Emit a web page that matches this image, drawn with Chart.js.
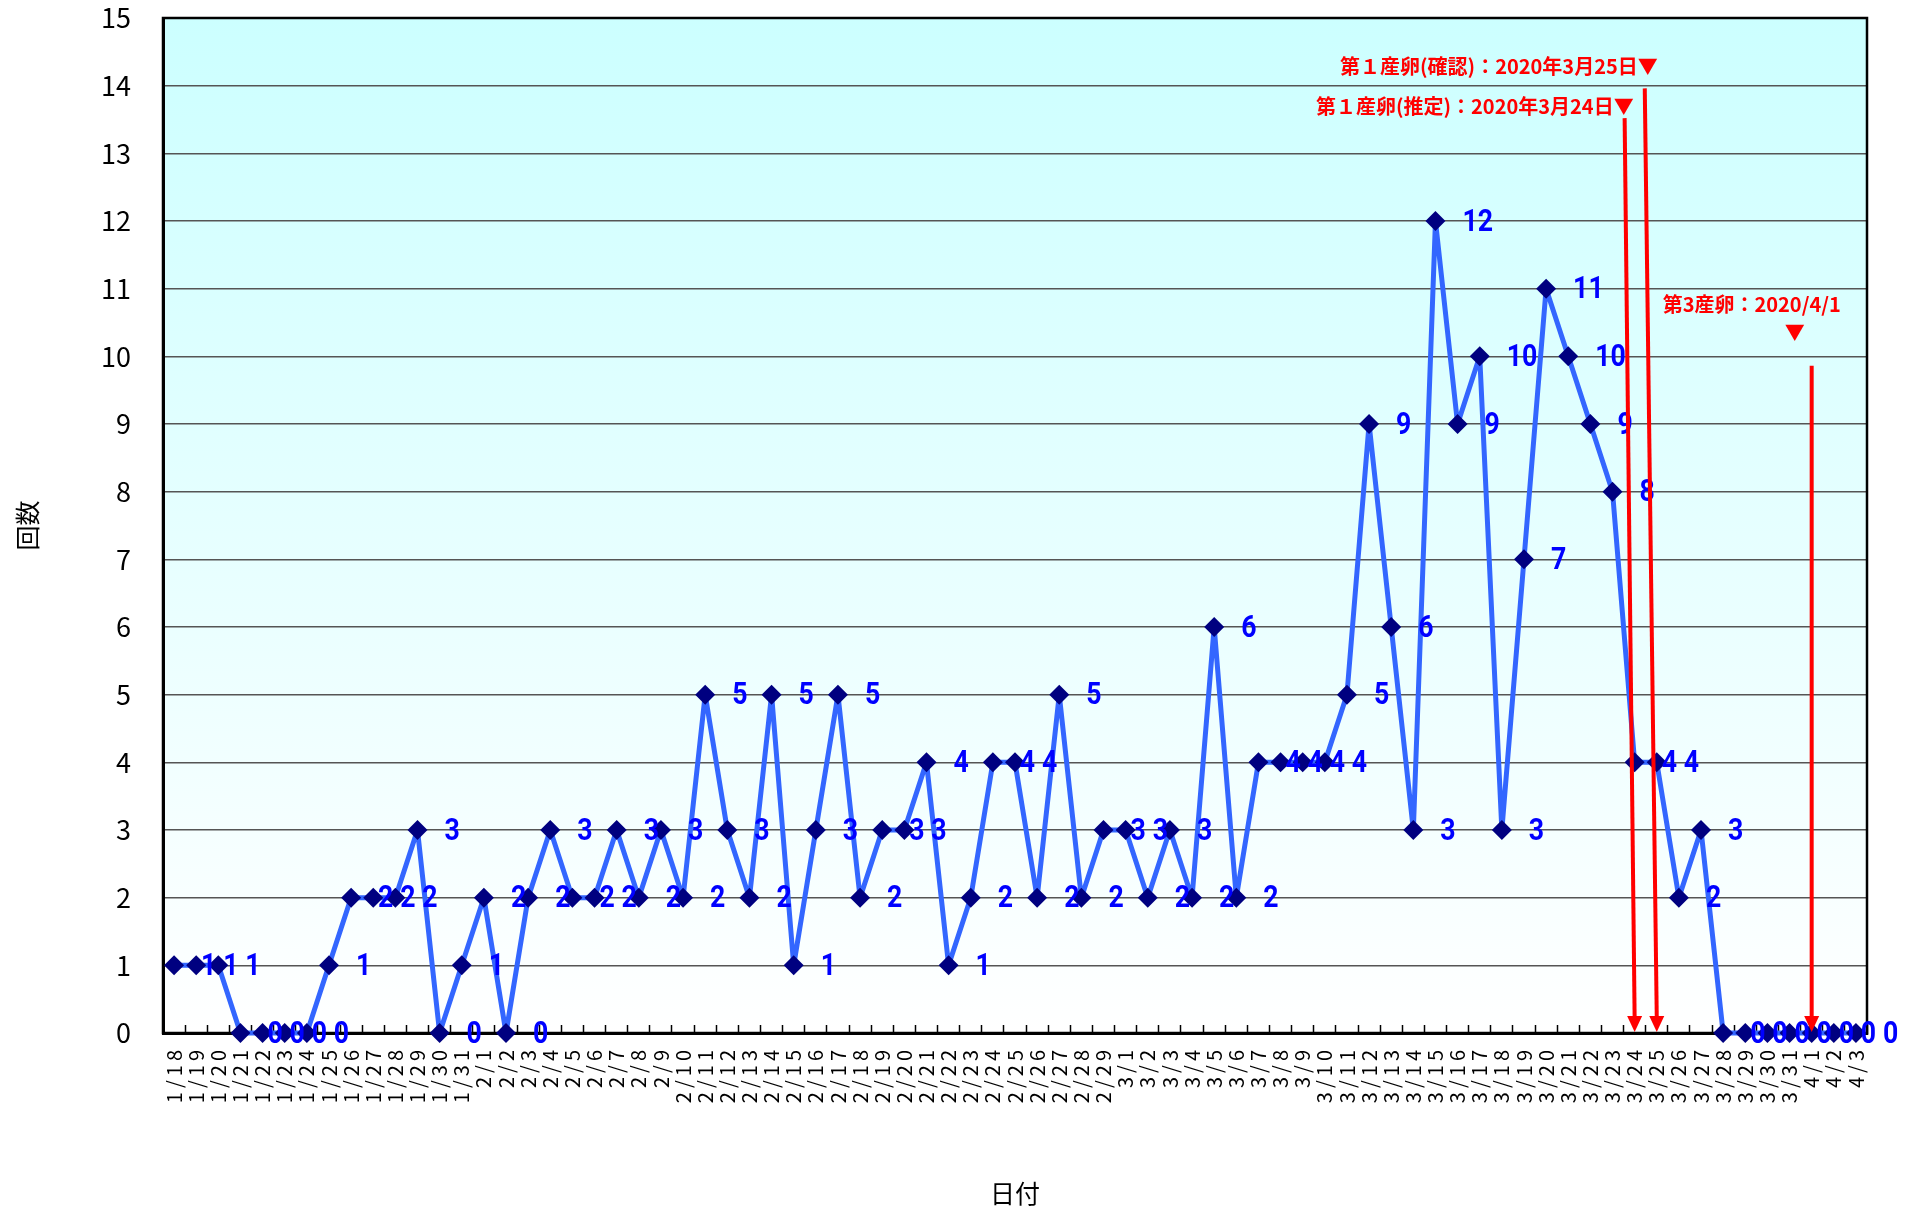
<!DOCTYPE html>
<html lang="ja">
<head>
<meta charset="utf-8">
<title>回数</title>
<script src="https://cdn.jsdelivr.net/npm/chart.js@4.4.1/dist/chart.umd.min.js"></script>
<style>
  html, body { margin: 0; padding: 0; background: #fff; }
  #wrap { width: 1907px; height: 1211px; }
</style>
</head>
<body>
<div id="wrap"><canvas id="countChart"></canvas></div>
<script>
const dates = [
  "1/18", "1/19", "1/20", "1/21", "1/22", "1/23", "1/24", "1/25", "1/26", "1/27", "1/28", "1/29", "1/30", "1/31",
  "2/1", "2/2", "2/3", "2/4", "2/5", "2/6", "2/7", "2/8", "2/9", "2/10", "2/11", "2/12", "2/13", "2/14", "2/15",
  "2/16", "2/17", "2/18", "2/19", "2/20", "2/21", "2/22", "2/23", "2/24", "2/25", "2/26", "2/27", "2/28", "2/29",
  "3/1", "3/2", "3/3", "3/4", "3/5", "3/6", "3/7", "3/8", "3/9", "3/10", "3/11", "3/12", "3/13", "3/14", "3/15",
  "3/16", "3/17", "3/18", "3/19", "3/20", "3/21", "3/22", "3/23", "3/24", "3/25", "3/26", "3/27", "3/28", "3/29",
  "3/30", "3/31", "4/1", "4/2", "4/3",
];

const counts = [
  1, 1, 1, 0, 0, 0, 0, 1, 2, 2, 2, 3, 0, 1,
  2, 0, 2, 3, 2, 2, 3, 2, 3, 2, 5, 3, 2, 5, 1,
  3, 5, 2, 3, 3, 4, 1, 2, 4, 4, 2, 5, 2, 3,
  3, 2, 3, 2, 6, 2, 4, 4, 4, 4, 5, 9, 6, 3, 12,
  9, 10, 3, 7, 11, 10, 9, 8, 4, 4, 2, 3, 0, 0,
  0, 0, 0, 0, 0,
];

const yMin = 0;
const yMax = 15;

// 産卵の注記
const noteDates = ["3/24", "3/25", "4/1"];
const noteTexts = [
  "第１産卵(推定)：2020年3月24日▼",
  "第１産卵(確認)：2020年3月25日▼",
  "第3産卵：2020/4/1",
];

const jpFont = '"Noto Sans CJK JP", sans-serif';

// x axis labels in the picture are drawn a bit wide
class SpacedCategory extends Chart.CategoryScale {
  drawLabels(chartArea) {
    const ctx = this.ctx;
    ctx.save();
    ctx.letterSpacing = "4px";
    super.drawLabels(chartArea);
    ctx.restore();
  }
}
SpacedCategory.id = "spacedCategory";
SpacedCategory.defaults = Chart.CategoryScale.defaults;
Chart.register(SpacedCategory);

const plotBackground = {
  id: "plotBackground",
  beforeDraw(chart) {
    const { ctx, chartArea: a } = chart;
    const g = ctx.createLinearGradient(0, a.top, 0, a.bottom);
    g.addColorStop(0, "#ccffff");
    g.addColorStop(1, "#ffffff");
    ctx.save();
    ctx.fillStyle = g;
    ctx.fillRect(a.left, a.top, a.width, a.height);
    ctx.restore();
  },
};

const plotFrame = {
  id: "plotFrame",
  beforeDatasetsDraw(chart) {
    const { ctx, chartArea: a } = chart;
    ctx.save();
    ctx.strokeStyle = "#000";
    ctx.lineWidth = 2.5;
    ctx.strokeRect(a.left, a.top, a.width, a.height);
    ctx.restore();
  },
};

const valueLabels = {
  id: "valueLabels",
  afterDatasetsDraw(chart) {
    const ctx = chart.ctx;
    const meta = chart.getDatasetMeta(0);
    ctx.save();
    ctx.fillStyle = "#0000ff";
    ctx.font = 'bold 31px Roboto, "Liberation Sans", sans-serif';
    ctx.textBaseline = "middle";
    ctx.textAlign = "left";
    meta.data.forEach((pt, i) => {
      ctx.save();
      ctx.translate(pt.x + 27, pt.y + 2);
      ctx.scale(0.86, 1);
      ctx.fillText(String(counts[i]), 0, 0);
      ctx.restore();
    });
    ctx.restore();
  },
};

const eggNotes = {
  id: "eggNotes",
  afterDatasetsDraw(chart) {
    const { ctx, scales } = chart;
    const x = scales.x;
    const y = scales.y;
    const y0 = y.getPixelForValue(0);
    // [top x shift, top value] for each arrow
    const arrowSpec = [[-10, 13.52], [-12, 13.96], [0, 9.86]];
    // [align, x shift, value] for each text
    const textSpec = [["right", -1, 13.7], ["right", 1, 14.28], ["center", -60, 10.77]];

    ctx.save();
    ctx.strokeStyle = "#ff0000";
    ctx.fillStyle = "#ff0000";
    noteDates.forEach((d, i) => {
      const xb = x.getPixelForValue(dates.indexOf(d));
      const [lean, topVal] = arrowSpec[i];
      const tipY = y0 - 1;
      const headH = 16;
      ctx.lineWidth = 4;
      ctx.beginPath();
      ctx.moveTo(xb + lean, y.getPixelForValue(topVal));
      ctx.lineTo(xb, tipY - headH + 2);
      ctx.stroke();
      ctx.beginPath();
      ctx.moveTo(xb - 7.5, tipY - headH);
      ctx.lineTo(xb + 7.5, tipY - headH);
      ctx.lineTo(xb, tipY);
      ctx.closePath();
      ctx.fill();

      const [align, dx, val] = textSpec[i];
      ctx.font = "bold 20px " + jpFont;
      ctx.textBaseline = "middle";
      ctx.textAlign = align;
      ctx.fillText(noteTexts[i], xb + dx, y.getPixelForValue(val));
    });
    // 4/1 の▼
    const x41 = x.getPixelForValue(dates.indexOf(noteDates[2]));
    ctx.font = "20px " + jpFont;
    ctx.textAlign = "center";
    ctx.fillText("▼", x41 - 17, y.getPixelForValue(10.36));
    ctx.restore();
  },
};

const countChart = new Chart(document.getElementById("countChart"), {
  type: "line",
  data: {
    labels: dates,
    datasets: [
      {
        label: "回数",
        data: counts,
        borderColor: "#3366ff",
        borderWidth: 5,
        borderJoinStyle: "round",
        tension: 0,
        pointStyle: "rectRot",
        pointRadius: 10,
        pointHoverRadius: 10,
        pointBackgroundColor: "#000080",
        pointBorderColor: "#000080",
        pointBorderWidth: 0,
        clip: false,
      },
    ],
  },
  options: {
    responsive: true,
    maintainAspectRatio: false,
    animation: false,
    layout: {
      padding: { top: 18, right: 40, bottom: 0, left: 0 },
    },
    plugins: {
      legend: { display: false },
      tooltip: { enabled: false },
    },
    scales: {
      x: {
        type: "spacedCategory",
        offset: true,
        grid: {
          offset: true,
          drawOnChartArea: false,
          drawTicks: true,
          tickLength: -8,
          tickColor: "#000",
          tickWidth: 1.5,
        },
        border: { display: true, color: "#000", width: 3 },
        ticks: {
          autoSkip: false,
          minRotation: 90,
          maxRotation: 90,
          padding: 21,
          color: "#000",
          font: { size: 20, family: jpFont },
        },
        title: {
          display: true,
          text: "日付",
          color: "#000",
          font: { size: 25, family: jpFont },
          padding: { top: 0, bottom: 3 },
        },
        afterFit: (s) => {
          s.height = 178;
        },
      },
      y: {
        min: yMin,
        max: yMax,
        ticks: {
          stepSize: 1,
          padding: 0,
          color: "#000",
          font: { size: 27, family: jpFont },
        },
        grid: {
          color: "#555",
          lineWidth: 1.5,
          drawTicks: true,
          tickLength: 32,
          tickColor: "rgba(0,0,0,0)",
        },
        border: { display: true, color: "#000", width: 3 },
        title: {
          display: true,
          text: "回数",
          color: "#000",
          font: { size: 25, family: jpFont },
          padding: { top: 12, bottom: 0 },
        },
        afterFit: (s) => {
          s.width = 163;
        },
      },
    },
  },
  plugins: [plotBackground, plotFrame, valueLabels, eggNotes],
});
</script>
</body>
</html>
